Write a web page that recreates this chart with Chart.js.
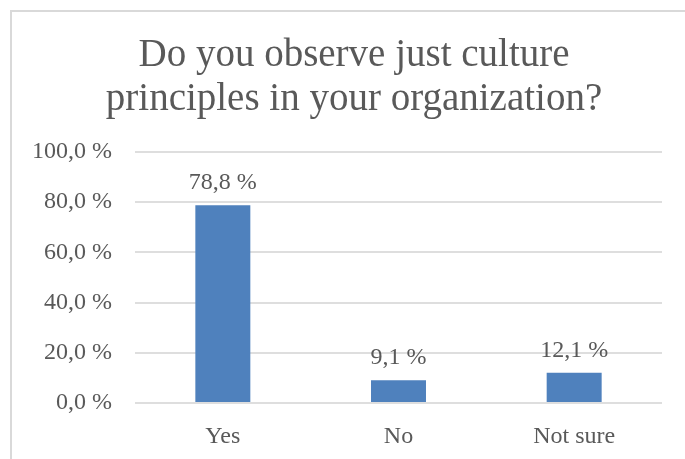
<!DOCTYPE html>
<html>
<head>
<meta charset="utf-8">
<script src="https://cdn.jsdelivr.net/npm/chart.js@4"></script>
<style>
  html, body { margin: 0; padding: 0; background: #fff; }
  #wrap { position: relative; width: 685px; height: 459px; overflow: hidden; }
  #frame { position: absolute; left: 10px; top: 10px; width: 720px; height: 480px;
           border-top: 2px solid #d9d9d9; border-left: 2px solid #d9d9d9; pointer-events: none; }
  canvas { position: absolute; left: 0; top: 0; }
</style>
</head>
<body>
<div id="wrap">
  <canvas id="chart" width="685" height="459"></canvas>
  <div id="frame"></div>
</div>
<script>
// ================= DATA =================
const titleLines = ["Do you observe just culture", "principles in your organization?"];
const categories = ["Yes", "No", "Not sure"];
const shares = [78.8, 9.1, 12.1];
const yTicks = [0, 20, 40, 60, 80, 100];

const TEXT = "#595959";
const FONT = "'Liberation Serif', 'Times New Roman', serif";

const pct = v => v.toFixed(1).replace(".", ",") + " %";

// two-line heading, centred on the outer frame rather than the canvas
const heading = {
    id: "heading",
    afterDraw(chart){
        const ctx = chart.ctx;
        ctx.save();
        ctx.font = "39px " + FONT;
        ctx.fillStyle = TEXT;
        ctx.textAlign = "center";
        ctx.textBaseline = "alphabetic";
        titleLines.forEach((line, i) => ctx.fillText(line, 354, 66 + i * 44));
        ctx.restore();
    }
};

// value labels above each bar
const barLabels = {
    id: "barLabels",
    afterDatasetsDraw(chart){
        const ctx = chart.ctx;
        const meta = chart.getDatasetMeta(0);
        ctx.save();
        ctx.font = "24px " + FONT;
        ctx.fillStyle = TEXT;
        ctx.textAlign = "center";
        ctx.textBaseline = "alphabetic";
        meta.data.forEach((bar, i) => {
            ctx.fillText(pct(shares[i]), bar.x, bar.y - 16);
        });
        ctx.restore();
    }
};

// ================= CHART =================
new Chart(document.getElementById("chart").getContext("2d"), {
    type: "bar",
    data: {
        labels: categories,
        datasets: [{
            data: shares,
            backgroundColor: "#4f81bd",
            barPercentage: 0.313,
            categoryPercentage: 1
        }]
    },
    options: {
        responsive: false,
        animation: false,
        layout: { padding: { left: 0, right: 23, top: 152, bottom: 0 } },
        plugins: {
            legend: { display: false },
            tooltip: { enabled: false },
            title: { display: false }
        },
        scales: {
            x: {
                grid: { display: false },
                border: { display: false },
                ticks: { color: TEXT, font: { family: FONT, size: 24 }, padding: 11 },
                afterFit: s => { s.height = 56; }
            },
            y: {
                min: 0,
                max: 100,
                afterBuildTicks: s => { s.ticks = yTicks.map(v => ({ value: v })); },
                grid: { color: "#dedede", lineWidth: 2, drawTicks: false },
                border: { display: false },
                ticks: { color: TEXT, font: { family: FONT, size: 24 }, padding: 23, callback: v => pct(v) },
                afterFit: s => { s.width = 135; }
            }
        }
    },
    plugins: [barLabels, heading]
});
</script>
</body>
</html>
